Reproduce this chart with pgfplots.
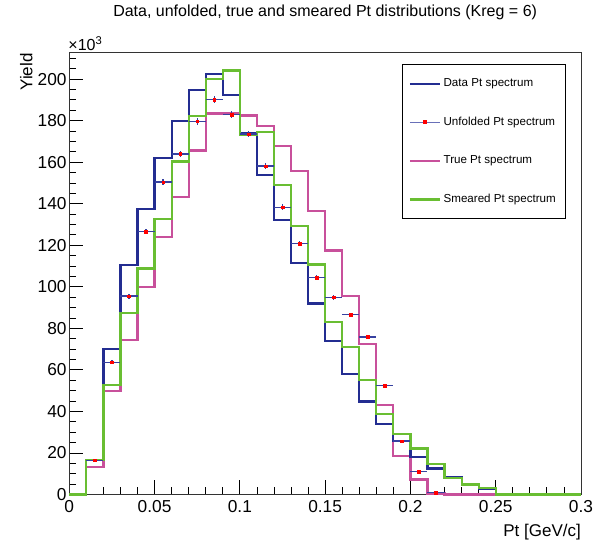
\documentclass[border=0pt]{standalone}
\usepackage{fontspec}
\setmainfont{Liberation Sans}
\usepackage{pgfplots}
\pgfplotsset{compat=1.18}
\usepackage{pgfplotstable}

\definecolor{datablue}{RGB}{35,45,145}
\definecolor{errblue}{RGB}{55,65,160}
\definecolor{truepink}{RGB}{200,80,155}
\definecolor{smgreen}{RGB}{105,190,50}

% unfolded spectrum, bin centres, in units of 10^3
\pgfplotstableread{
x     y     ex     ey
0.015 16.5  0.005  0.5
0.025 63.7  0.005  1.0
0.035 95.5  0.005  1.2
0.045 126.7 0.005  1.35
0.055 150.4 0.005  1.5
0.065 164.0 0.005  1.55
0.075 179.7 0.005  1.6
0.085 190.2 0.005  1.65
0.095 183.0 0.005  1.6
0.105 173.5 0.005  1.6
0.115 158.1 0.005  1.5
0.125 138.3 0.005  1.4
0.135 120.9 0.005  1.3
0.145 104.4 0.005  1.2
0.155 95.0  0.005  1.2
0.165 86.5  0.005  1.1
0.175 75.8  0.005  1.05
0.185 52.4  0.005  0.9
0.195 25.7  0.005  0.6
0.205 11.0  0.005  0.4
0.215 0.8   0.005  0.1
}\unfolded

\begin{document}
\begin{tikzpicture}
\path[use as bounding box] (-69.3pt,-45.5pt) rectangle (546.7pt,494.5pt);
\begin{axis}[
  scale only axis,
  width=511.7pt, height=442.2pt,
  xmin=0, xmax=0.3,
  ymin=0, ymax=212.9,
  clip=false,
  axis line style={black!80, line width=0.8pt},
  xtick pos=bottom, ytick pos=left,
  tick align=inside,
  major tick length=14pt, minor tick length=7pt,
  every tick/.style={black, line width=0.8pt},
  xtick={0,0.05,0.1,0.15,0.2,0.25,0.3},
  xticklabels={0,0.05,0.1,0.15,0.2,0.25,0.3},
  minor x tick num=4,
  ytick={0,20,40,60,80,100,120,140,160,180,200,220},
  yticklabels={0,20,40,60,80,100,120,140,160,180,200,220},
  minor y tick num=3,
  tick label style={font=\fontsize{17.3}{18}\selectfont},
  xticklabel style={inner ysep=6pt},
  yticklabel style={inner xsep=2.5pt},
  title={Data, unfolded, true and smeared Pt distributions (Kreg = 6)},
  title style={at={(axis description cs:0.5,1.0685)}, anchor=base,
    inner sep=0pt, font=\fontsize{16}{17}\selectfont},
  xlabel={Pt [GeV/c]},
  xlabel style={at={(axis description cs:1,-0.0954)}, anchor=base east,
    inner sep=0pt, font=\fontsize{17}{18}\selectfont},
  ylabel={Yield},
  ylabel style={at={(axis description cs:-0.0723,0.9977)}, anchor=base east,
    inner sep=0pt, font=\fontsize{17}{18}\selectfont},
  legend image code/.code={
    \draw[mark repeat=2, mark phase=2, #1]
      plot coordinates {(0pt,0pt) (15pt,0pt) (30pt,0pt)};},
  legend cell align=left,
  legend style={at={(axis description cs:0.6508,0.9735)}, anchor=north west,
    draw=black, line width=0.8pt, fill=white,
    font=\fontsize{11.6}{12}\selectfont,
    inner xsep=6pt, inner ysep=13.75pt, row sep=27.6pt, column sep=2.7pt,
    nodes={inner sep=0pt, text height=8.5pt, text depth=2.5pt}},
]

\addlegendimage{datablue, line width=2.2pt}
\addlegendentry{\makebox[116pt][l]{Data Pt spectrum}}
\addlegendimage{errblue!75, line width=1.5pt, mark=square*, mark size=1.4pt, mark options={red, fill=red}}
\addlegendentry{Unfolded Pt spectrum}
\addlegendimage{truepink, line width=2.2pt}
\addlegendentry{True Pt spectrum}
\addlegendimage{smgreen, line width=2.2pt}
\addlegendentry{Smeared Pt spectrum}

% true
\addplot[forget plot, const plot, truepink, line width=2.2pt] coordinates {
  (0,0) (0.01,13.1) (0.02,49.9) (0.03,74.4) (0.04,100.0) (0.05,124.0)
  (0.06,143.2) (0.07,165.6) (0.08,183.4) (0.09,183.6) (0.10,182.5)
  (0.11,177.5) (0.12,167.8) (0.13,155.8) (0.14,136.3) (0.15,117.5)
  (0.16,95.7) (0.17,72.3) (0.18,42.9) (0.19,18.4) (0.20,7.2) (0.21,0.5)
  (0.22,0) (0.3,0)
};

% data
\addplot[forget plot, const plot, datablue, line width=2.2pt] coordinates {
  (0,0) (0.01,16.5) (0.02,70.1) (0.03,110.4) (0.04,137.6) (0.05,161.9)
  (0.06,180.0) (0.07,194.9) (0.08,202.5) (0.09,192.2) (0.10,173.8)
  (0.11,153.8) (0.12,132.3) (0.13,111.5) (0.14,92.0) (0.15,73.9)
  (0.16,57.9) (0.17,44.8) (0.18,33.9) (0.19,25.6) (0.20,18.1) (0.21,12.5)
  (0.22,8.3) (0.23,4.8) (0.24,2.7) (0.25,0) (0.3,0)
};

% smeared
\addplot[forget plot, const plot, smgreen, line width=2.2pt] coordinates {
  (0,0) (0.01,16.5) (0.02,52.8) (0.03,87.2) (0.04,108.8) (0.05,132.5)
  (0.06,160.3) (0.07,182.1) (0.08,200.1) (0.09,204.1) (0.10,173.2)
  (0.11,174.7) (0.12,149.0) (0.13,129.4) (0.14,110.7) (0.15,83.2)
  (0.16,71.2) (0.17,55.2) (0.18,38.9) (0.19,29.3) (0.20,22.1) (0.21,14.8)
  (0.22,7.9) (0.23,4.8) (0.24,3.0) (0.25,0) (0.3,0)
};

% unfolded
\addplot[forget plot, only marks, mark=square*, mark size=1.4pt,
  mark options={red, fill=red},
  error bars/.cd, x dir=both, x explicit, y dir=both, y explicit,
  error mark=none,
  error bar style={errblue, line width=1.3pt}]
  table[x=x, y=y, x error=ex, y error=ey] {\unfolded};

\node[anchor=base west, inner sep=0pt, font=\fontsize{16}{17}\selectfont]
  at (axis description cs:-0.002,1.003) {×10\textsuperscript{3}};
\end{axis}
\end{tikzpicture}
\end{document}
